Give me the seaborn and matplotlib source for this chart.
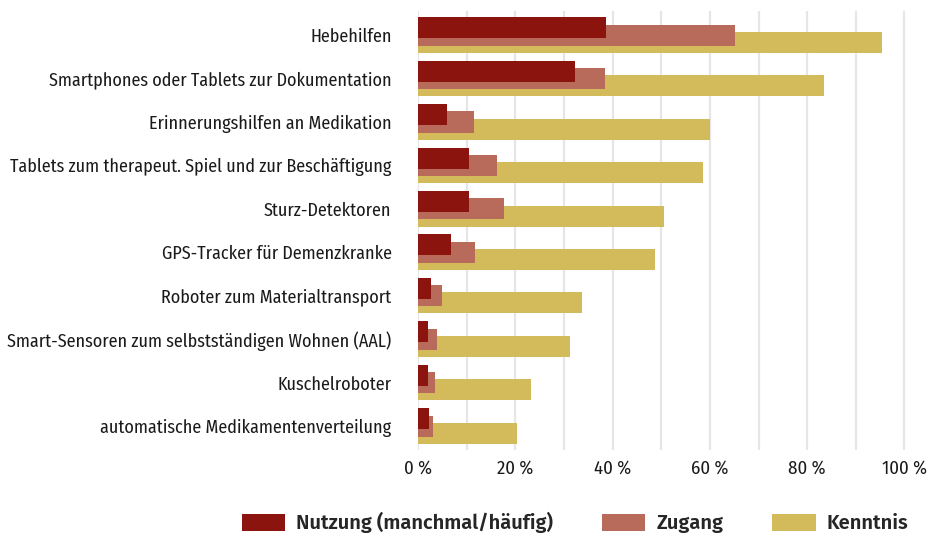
import numpy as np
import pandas as pd
import matplotlib.pyplot as plt
import seaborn as sns
from matplotlib.ticker import MultipleLocator, FuncFormatter

# ------------------ Data (percent of respondents) ------------------
categories = [
    "Hebehilfen",
    "Smartphones oder Tablets zur Dokumentation",
    "Erinnerungshilfen an Medikation",
    "Tablets zum therapeut. Spiel und zur Beschäftigung",
    "Sturz-Detektoren",
    "GPS-Tracker für Demenzkranke",
    "Roboter zum Materialtransport",
    "Smart-Sensoren zum selbstständigen Wohnen (AAL)",
    "Kuschelroboter",
    "automatische Medikamentenverteilung",
]
nutzung = [38.6, 32.3, 5.9, 10.4, 10.4, 6.7, 2.7, 2.0, 2.0, 2.2]
zugang = [65.2, 38.4, 11.5, 16.2, 17.6, 11.7, 4.9, 3.9, 3.5, 3.1]
kenntnis = [95.3, 83.4, 60.1, 58.5, 50.5, 48.7, 33.7, 31.3, 23.3, 20.4]

series_names = ["Nutzung (manchmal/häufig)", "Zugang", "Kenntnis"]
colors = {"Nutzung (manchmal/häufig)": "#8B140E", "Zugang": "#B96B5B", "Kenntnis": "#D3BB5B"}

df = pd.DataFrame({"Kategorie": categories, series_names[0]: nutzung,
                   series_names[1]: zugang, series_names[2]: kenntnis})

sns.set_style("white")
plt.rcParams["font.family"] = ["Fira Sans Condensed", "Roboto Condensed", "DejaVu Sans"]

fig = plt.figure(figsize=(9.34, 5.35), dpi=100)
ax = fig.add_axes([0.4475, 0.159, 0.5235, 0.82])

# draw back-to-front: Kenntnis, Zugang, Nutzung; each shifted vertically
bar_h = 0.484
offsets = {"Kenntnis": 0.165, "Zugang": 0.0, "Nutzung (manchmal/häufig)": -0.17}
handles = {}
for name in ["Kenntnis", "Zugang", "Nutzung (manchmal/häufig)"]:
    sns.barplot(data=df, x=name, y="Kategorie", color=colors[name], width=bar_h,
                orient="h", saturation=1, ax=ax, label=name, zorder=3)
    cont = ax.containers[-1]
    for p in cont.patches:
        p.set_y(p.get_y() + offsets[name])
        p.set_linewidth(0)
    handles[name] = cont

ax.set_xlim(0, 100.5)
ax.set_ylim(len(categories) - 0.45, -0.55)
ax.xaxis.set_major_locator(MultipleLocator(20))
ax.xaxis.set_minor_locator(MultipleLocator(10))
ax.xaxis.set_major_formatter(FuncFormatter(lambda v, _: f"{int(v)} %"))
ax.grid(axis="x", which="both", color="#E6E6E6", linewidth=1.6, zorder=0)
ax.set_axisbelow(True)
ax.set_xlabel("")
ax.set_ylabel("")
ax.tick_params(axis="both", which="both", length=0, labelsize=13, colors="#1a1a1a")
ax.tick_params(axis="x", labelsize=13.5)
ax.tick_params(axis="y", pad=19)
ax.tick_params(axis="x", pad=7)
sns.despine(ax=ax, left=True, bottom=True)
if ax.get_legend():
    ax.get_legend().remove()

fig.legend(handles=[handles[n] for n in series_names], labels=series_names,
           loc="center", bbox_to_anchor=(0.616, 0.0225), ncol=3, frameon=False,
           prop={"family": ["Fira Sans", "DejaVu Sans"], "weight": "semibold", "size": 14.5},
           handlelength=2.14, handleheight=0.95,
           handletextpad=0.55, columnspacing=2.43)

fig.savefig("out.png", dpi=100)
